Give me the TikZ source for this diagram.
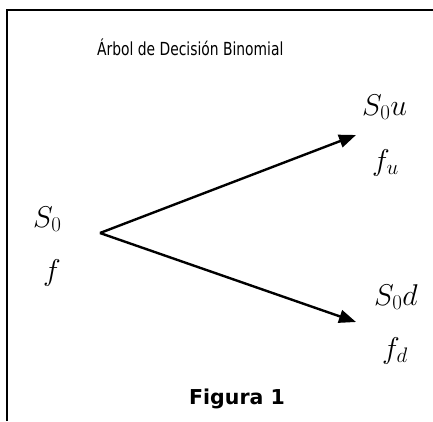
\RequirePackage{fix-cm}
\documentclass[tikz,border=0pt]{standalone}
\usepackage[no-math]{fontspec}
\setmainfont{DejaVu Sans}
\newfontfamily\titlefont[FakeStretch=0.77]{DejaVu Sans}
\usetikzlibrary{arrows.meta}
\begin{document}
\begin{tikzpicture}[x=1pt,y=-1pt,
  lbl/.style={anchor=base west,inner sep=0pt,font=\fontsize{30}{34}\selectfont},
  branch/.style={line width=2.4pt,-{Triangle[length=17pt,width=13pt]}},
  frame/.style={line width=2pt}]
\useasboundingbox (0,0) rectangle (433,421);
\fill[white] (0,0) rectangle (433,421);
\draw[frame] (7,421) -- (7,10) -- (433,10);
\node[anchor=base west,inner sep=0pt,font=\titlefont\fontsize{18}{21}\selectfont] (title) at (97,55) {Árbol de Decisión Binomial};
\node[lbl] (s0) at (33,227) {$S_0$};
\node[lbl] (f) at (43,280) {$f$};
\node[lbl] (s0u) at (362,115) {$S_0u$};
\node[lbl] (fu) at (372,170) {$f_u$};
\node[lbl] (s0d) at (374,305) {$S_0d$};
\node[lbl] (fd) at (382,358) {$f_d$};
\node[anchor=base west,inner sep=0pt,font=\bfseries\fontsize{20.5}{24}\selectfont] (fig) at (189,404) {Figura 1};
\coordinate (o) at (100,233);
\coordinate (up) at (356,135);
\coordinate (dn) at (356,322);
\draw[branch] (o) -- (up);
\draw[branch] (o) -- (dn);
\end{tikzpicture}
\end{document}
